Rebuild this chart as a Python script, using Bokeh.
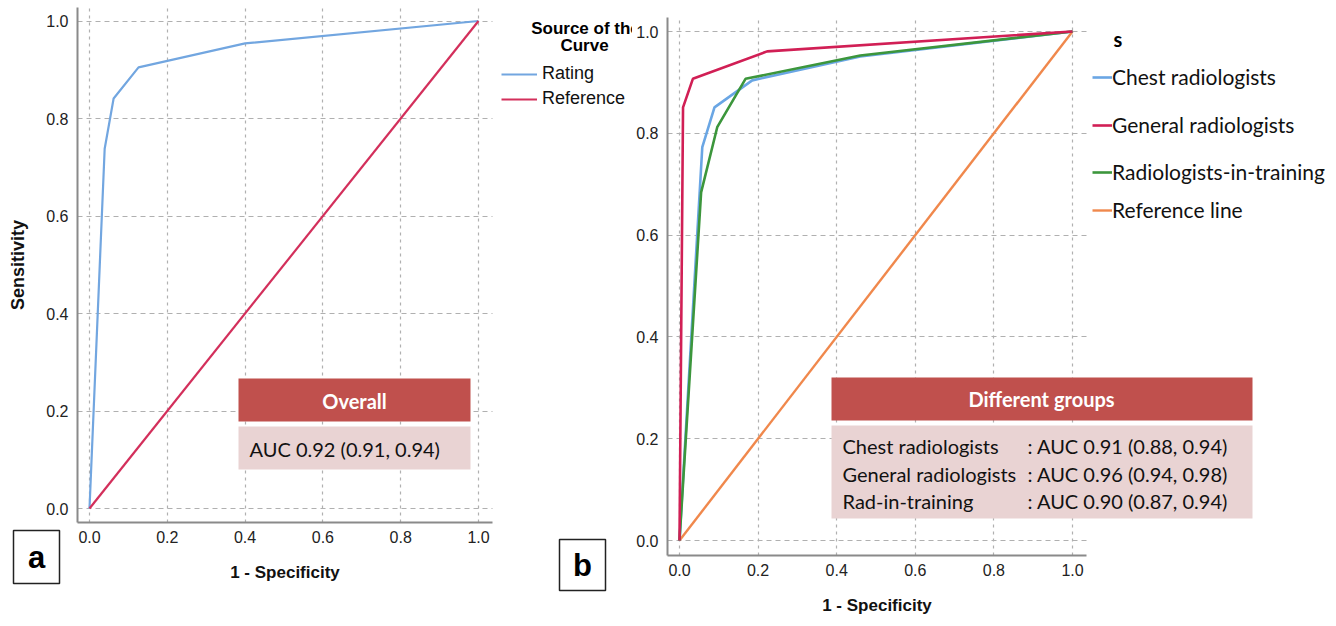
from bokeh.plotting import figure
from bokeh.models import (Range1d, FixedTicker, PrintfTickFormatter, BoxAnnotation,
                          Label, Legend, LegendItem, Grid)
from bokeh.layouts import row
from bokeh.embed import file_html
from bokeh.resources import INLINE

# ---------------- data ----------------
ticks = [0.0, 0.2, 0.4, 0.6, 0.8, 1.0]

a_rating_fpr = [0.0, 0.039, 0.062, 0.126, 0.40, 1.0]
a_rating_tpr = [0.0, 0.738, 0.841, 0.905, 0.954, 1.0]
a_ref_fpr = [0.0, 1.0]
a_ref_tpr = [0.0, 1.0]

b_chest_fpr = [0.0, 0.058, 0.089, 0.185, 0.46, 1.0]
b_chest_tpr = [0.0, 0.773, 0.851, 0.904, 0.951, 1.0]
b_general_fpr = [0.0, 0.009, 0.034, 0.223, 1.0]
b_general_tpr = [0.0, 0.851, 0.907, 0.961, 1.0]
b_train_fpr = [0.0, 0.055, 0.096, 0.168, 0.46, 1.0]
b_train_tpr = [0.0, 0.684, 0.812, 0.907, 0.953, 1.0]
b_ref_fpr = [0.0, 1.0]
b_ref_tpr = [0.0, 1.0]

a_legend_labels = ["Rating", "Reference"]
b_legend_labels = ["Chest radiologists", "General radiologists",
                   "Radiologists-in-training", "Reference line"]
a_box_title = "Overall"
a_box_text = "AUC  0.92 (0.91, 0.94)"
b_box_title = "Different groups"
b_box_names = ["Chest radiologists", "General radiologists", "Rad-in-training"]
b_box_auc = [": AUC 0.91 (0.88, 0.94)", ": AUC 0.96 (0.94, 0.98)", ": AUC 0.90 (0.87, 0.94)"]

HEADER = "#c0504d"
BODY = "#e9d3d3"
BOXFONT = "Lato"
HAS_CB = "cross_bounds" in Grid.properties()

# page-pixel <-> data helpers (layout only)
def adx(X): return (X - 89) / 389.0
def ady(Y): return (508 - Y) / 487.5
def bdx(X): return (X - 679) / 393.0
def bdy(Y): return (540 - Y) / 509.0

FIG_H = 622
TOP, BOT = 0, FIG_H


def style_fig(p, ylabel, xb, yb):
    p.outline_line_color = None
    p.background_fill_color = "white"
    p.border_fill_color = "white"
    p.xaxis[0].fixed_location = yb[0]
    p.yaxis[0].fixed_location = xb[0]
    p.xaxis[0].bounds = xb
    p.yaxis[0].bounds = yb
    for ax in (p.xaxis[0], p.yaxis[0]):
        ax.ticker = FixedTicker(ticks=ticks)
        ax.formatter = PrintfTickFormatter(format="%.1f")
        ax.axis_line_color = "#8a8a8a"
        ax.axis_line_width = 2
        ax.major_tick_line_color = None
        ax.minor_tick_line_color = None
        ax.major_tick_out = 0
        ax.major_tick_in = 0
        ax.major_label_text_font = "Liberation Sans"
        ax.major_label_text_font_size = "16px"
        ax.major_label_text_color = "#222222"
        ax.axis_label_text_font = "Liberation Sans"
        ax.axis_label_text_font_style = "bold"
        ax.axis_label_text_font_size = "17px"
        ax.axis_label_text_color = "#111111"
    p.xaxis[0].axis_label = "1 - Specificity"
    p.xaxis[0].major_label_standoff = 8
    p.xaxis[0].axis_label_standoff = 17
    p.yaxis[0].major_label_standoff = 9
    if ylabel:
        p.yaxis[0].axis_label = ylabel
        p.yaxis[0].axis_label_text_font_size = "18px"
        p.yaxis[0].axis_label_standoff = 15
    gcol, gw = "#b0b0b0", 1.2
    if HAS_CB:
        p.xgrid.ticker = FixedTicker(ticks=ticks)
        p.ygrid.ticker = FixedTicker(ticks=ticks)
        p.xgrid.cross_bounds = yb
        p.ygrid.cross_bounds = xb
        p.xgrid.grid_line_color = gcol
        p.ygrid.grid_line_color = gcol
        p.xgrid.grid_line_dash = "3 4"
        p.ygrid.grid_line_dash = "5 4"
        p.xgrid.grid_line_width = gw
        p.ygrid.grid_line_width = gw
    else:
        p.xgrid.visible = False
        p.ygrid.visible = False
        n = len(ticks)
        p.segment(x0=ticks, x1=ticks, y0=[yb[0]] * n, y1=[yb[1]] * n,
                  line_color=gcol, line_width=gw, line_dash="3 4")
        p.segment(x0=[xb[0]] * n, x1=[xb[1]] * n, y0=ticks, y1=ticks,
                  line_color=gcol, line_width=gw, line_dash="5 4")


def letter_box(p, fx, fy, X0, X1, Y0, Y1, letter):
    p.add_layout(BoxAnnotation(left=fx(X0), right=fx(X1), top=fy(Y0), bottom=fy(Y1),
                               fill_color="white", fill_alpha=1,
                               line_color="#222222", line_alpha=1, line_width=1.5))
    p.add_layout(Label(x=fx((X0 + X1) / 2), y=fy((Y0 + Y1) / 2), text=letter,
                       text_font="Liberation Sans", text_font_style="bold",
                       text_font_size="31px", text_align="center",
                       text_baseline="middle", text_color="#000000"))


# ---------------- panel a ----------------
A_L, A_R = 0, 632
pa = figure(width=A_R - A_L, height=FIG_H, output_backend="svg", toolbar_location=None,
            x_range=Range1d(adx(A_L), adx(A_R)), y_range=Range1d(ady(BOT), ady(TOP)),
            min_border=0)
style_fig(pa, "Sensitivity", (adx(77), adx(492)), (ady(522), ady(7)))

ra1 = pa.line(a_rating_fpr, a_rating_tpr, line_color="#72a6e0", line_width=2.2)
ra2 = pa.line(a_ref_fpr, a_ref_tpr, line_color="#d32f5b", line_width=2.2)

leg_a = Legend(items=[LegendItem(label=a_legend_labels[0], renderers=[ra1]),
                      LegendItem(label=a_legend_labels[1], renderers=[ra2])],
               location=(501 - A_L, BOT - 109), padding=0, margin=0, spacing=4,
               glyph_width=36, glyph_height=20, label_height=20, label_standoff=5,
               border_line_color=None, background_fill_alpha=0,
               label_text_font="Liberation Sans", label_text_font_size="18px",
               label_text_color="#111111")
pa.add_layout(leg_a)

pa.add_layout(Label(x=adx(585), y=ady(28), text="Source of the",
                    text_font="Liberation Sans", text_font_style="bold", text_font_size="17px",
                    text_align="center", text_baseline="middle", text_color="#000000"))
pa.add_layout(Label(x=adx(584), y=ady(45), text="Curve",
                    text_font="Liberation Sans", text_font_style="bold", text_font_size="17px",
                    text_align="center", text_baseline="middle", text_color="#000000"))

pa.add_layout(BoxAnnotation(left=adx(238), right=adx(470), top=ady(378), bottom=ady(421),
                            fill_color=HEADER, fill_alpha=1, line_color=None))
pa.add_layout(BoxAnnotation(left=adx(238), right=adx(470), top=ady(426), bottom=ady(469),
                            fill_color=BODY, fill_alpha=1, line_color=None))
pa.add_layout(Label(x=adx(354), y=ady(400), text=a_box_title, text_font=BOXFONT,
                    text_font_style="bold", text_font_size="20px", text_color="white",
                    text_align="center", text_baseline="middle"))
pa.add_layout(Label(x=adx(249), y=ady(448), text=a_box_text, text_font=BOXFONT,
                    text_font_size="20px", text_color="#111111",
                    text_align="left", text_baseline="middle"))
letter_box(pa, adx, ady, 13, 59, 530, 583, "a")
letter_box(pa, adx, ady, 559, 605, 539, 590, "b")

# ---------------- panel b ----------------
B_L, B_R = 632, 1336
pb = figure(width=B_R - B_L, height=FIG_H, output_backend="svg", toolbar_location=None,
            x_range=Range1d(bdx(B_L), bdx(B_R)), y_range=Range1d(bdy(BOT), bdy(TOP)),
            min_border=0)
style_fig(pb, None, (bdx(667), bdx(1086)), (bdy(555), bdy(17)))

rb4 = pb.line(b_ref_fpr, b_ref_tpr, line_color="#f0884c", line_width=2.4)
rb1 = pb.line(b_chest_fpr, b_chest_tpr, line_color="#6aa6e4", line_width=2.6)
rb3 = pb.line(b_train_fpr, b_train_tpr, line_color="#3c963c", line_width=2.6)
rb2 = pb.line(b_general_fpr, b_general_tpr, line_color="#d11f55", line_width=2.6)

b_leg_centers = [77, 125, 172, 210]
for lab, ren, cy in zip(b_legend_labels, [rb1, rb2, rb3, rb4], b_leg_centers):
    pb.add_layout(Legend(items=[LegendItem(label=lab, renderers=[ren])],
                         location=(1092 - B_L, BOT - (cy + 12)), padding=0, margin=0,
                         glyph_width=20, glyph_height=20, label_height=20, label_standoff=0,
                         border_line_color=None, background_fill_alpha=0,
                         label_text_font=BOXFONT, label_text_font_size="21px",
                         label_text_color="#111111"))
pb.add_layout(Label(x=bdx(1113), y=bdy(38), text="s",
                    text_font=BOXFONT, text_font_style="bold", text_font_size="20px",
                    text_align="left", text_baseline="middle", text_color="#000000"))

pb.add_layout(BoxAnnotation(left=bdx(831), right=bdx(1252), top=bdy(377), bottom=bdy(420),
                            fill_color=HEADER, fill_alpha=1, line_color=None))
pb.add_layout(BoxAnnotation(left=bdx(831), right=bdx(1252), top=bdy(425), bottom=bdy(518),
                            fill_color=BODY, fill_alpha=1, line_color=None))
pb.add_layout(Label(x=bdx(1041), y=bdy(398), text=b_box_title, text_font=BOXFONT,
                    text_font_style="bold", text_font_size="20px", text_color="white",
                    text_align="center", text_baseline="middle"))
for name, auc, Y in zip(b_box_names, b_box_auc, [445, 473, 500]):
    pb.add_layout(Label(x=bdx(842), y=bdy(Y), text=name, text_font=BOXFONT,
                        text_font_size="20px", text_color="#111111",
                        text_align="left", text_baseline="middle"))
    pb.add_layout(Label(x=bdx(1027), y=bdy(Y), text=auc, text_font=BOXFONT,
                        text_font_size="20px", text_color="#111111",
                        text_align="left", text_baseline="middle"))

layout = row(pa, pb)
open("out.html", "w").write(file_html(layout, INLINE))
